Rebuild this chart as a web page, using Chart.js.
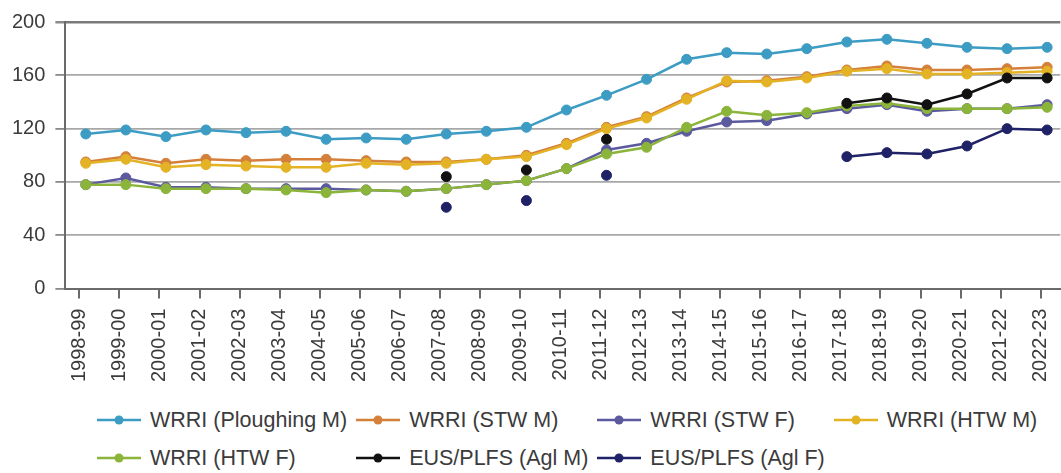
<!DOCTYPE html>
<html>
<head>
<meta charset="utf-8">
<script src="https://cdn.jsdelivr.net/npm/chart.js@4/dist/chart.umd.min.js"></script>
<style>
  html, body { margin: 0; padding: 0; background: #fff; overflow: hidden; }
  body { width: 1061px; height: 473px; position: relative; font-family: "Liberation Sans", Arial, sans-serif; }
  #wrap { position: absolute; left: 0; top: 0; width: 1075px; height: 392px; }
  #legend {
    position: absolute; left: 97px; top: 401px;
    display: grid; grid-template-columns: repeat(4, auto); grid-auto-rows: 38px;
    column-gap: 9px; align-items: center;
    font-size: 21.5px; color: #3b3b3b;
  }
  #legend .item { display: flex; align-items: center; white-space: nowrap; }
  #legend svg { margin-right: 9px; }
</style>
</head>
<body>
<div id="wrap"><canvas id="chart"></canvas></div>
<div id="legend"></div>
<script>
// ── Data ────────────────────────────────────────────────────────
const CATEGORIES = [
  '1998-99', '1999-00', '2000-01', '2001-02', '2002-03', '2003-04', '2004-05',
  '2005-06', '2006-07', '2007-08', '2008-09', '2009-10', '2010-11', '2011-12',
  '2012-13', '2013-14', '2014-15', '2015-16', '2016-17', '2017-18', '2018-19',
  '2019-20', '2020-21', '2021-22', '2022-23'
];

const PLOUGHING_M = [116, 119, 114, 119, 117, 118, 112, 113, 112, 116, 118, 121, 134, 145, 157, 172, 177, 176, 180, 185, 187, 184, 181, 180, 181];
const STW_M       = [95, 99, 94, 97, 96, 97, 97, 96, 95, 95, 97, 100, 109, 121, 129, 143, 155, 156, 159, 164, 167, 164, 164, 165, 166];
const STW_F       = [78, 83, 76, 76, 75, 75, 75, 74, 73, 75, 78, 81, 90, 104, 109, 118, 125, 126, 131, 135, 138, 133, 135, 135, 138];
const HTW_M       = [94, 97, 91, 93, 92, 91, 91, 94, 93, 94, 97, 99, 108, 120, 128, 142, 156, 155, 158, 163, 165, 161, 161, 162, 163];
const HTW_F       = [78, 78, 75, 75, 75, 74, 72, 74, 73, 75, 78, 81, 90, 101, 106, 121, 133, 130, 132, 137, 139, 135, 135, 135, 136];
const AGL_M       = [null, null, null, null, null, null, null, null, null, 84, null, 89, null, 112, null, null, null, null, null, 139, 143, 138, 146, 158, 158];
const AGL_F       = [null, null, null, null, null, null, null, null, null, 61, null, 66, null, 85, null, null, null, null, null, 99, 102, 101, 107, 120, 119];

const Y_TICKS = [0, 40, 80, 120, 160, 200];

const SERIES = [
  { label: 'WRRI (Ploughing M)', data: PLOUGHING_M, color: '#3d9cc3', order: 6 },
  { label: 'WRRI (STW M)',       data: STW_M,       color: '#d4803a', order: 5 },
  { label: 'WRRI (STW F)',       data: STW_F,       color: '#5c5a9e', order: 4 },
  { label: 'WRRI (HTW M)',       data: HTW_M,       color: '#e3b325', order: 3 },
  { label: 'WRRI (HTW F)',       data: HTW_F,       color: '#8bb43a', order: 2 },
  { label: 'EUS/PLFS (Agl M)',   data: AGL_M,       color: '#111111', order: 1 },
  { label: 'EUS/PLFS (Agl F)',   data: AGL_F,       color: '#1f2266', order: 0 },
];

const FONT = { family: '"Liberation Sans", Arial, sans-serif', size: 20 };
const TEXT = '#3b3b3b';

// ── Chart ───────────────────────────────────────────────────────
const chart = new Chart(document.getElementById('chart'), {
  type: 'line',
  data: {
    datasets: SERIES.map(function (s) {
      return {
        label: s.label,
        data: s.data.map(function (v, i) { return { x: i, y: v }; }),
        borderColor: s.color,
        backgroundColor: s.color,
        pointBackgroundColor: s.color,
        pointBorderColor: s.color,
        borderWidth: 2.5,
        pointRadius: 5,
        pointBorderWidth: 1,
        tension: 0,
        spanGaps: false,
        order: s.order,
        xAxisID: 'x',
      };
    })
  },
  options: {
    responsive: true,
    maintainAspectRatio: false,
    animation: false,
    layout: { padding: { left: 2, right: 12, top: 8, bottom: 0 } },
    plugins: { legend: { display: false }, tooltip: { enabled: false } },
    scales: {
      // data positions (points sit a little right of the tick marks)
      x: { type: 'linear', display: false, min: -0.51, max: 24.33 },
      // visible category ticks / labels
      xLabels: {
        type: 'linear', position: 'bottom',
        min: -0.35, max: 24.49,
        grid: { drawOnChartArea: false, tickLength: 10, tickColor: '#6a6a6a', lineWidth: 2 },
        border: { color: '#6a6a6a', width: 2 },
        ticks: {
          stepSize: 1, autoSkip: false, includeBounds: false,
          maxRotation: 90, minRotation: 90, padding: 10,
          color: TEXT, font: FONT,
          callback: function (v) { return Number.isInteger(v) ? CATEGORIES[v] : ''; }
        }
      },
      y: {
        min: 0, max: 200,
        afterBuildTicks: function (axis) { axis.ticks = Y_TICKS.map(function (v) { return { value: v }; }); },
        grid: {
          color: function (ctx) { return ctx.tick && ctx.tick.value === 200 ? '#7a7a7a' : '#a8a8a8'; },
          lineWidth: function (ctx) { return ctx.tick && ctx.tick.value === 200 ? 2.5 : 1.8; },
          tickLength: 10, tickColor: '#8a8a8a'
        },
        border: { color: '#6a6a6a', width: 2 },
        ticks: { padding: 10, color: TEXT, font: FONT }
      }
    }
  }
});

// ── HTML legend (line + marker symbol) ─────────────────────────
const legendEl = document.getElementById('legend');
legendEl.innerHTML = chart.data.datasets.map(function (ds) {
  return '<div class="item">'
    + '<svg width="44" height="14"><line x1="0" y1="7" x2="44" y2="7" stroke="' + ds.borderColor + '" stroke-width="2.5"/>'
    + '<circle cx="22" cy="7" r="4.5" fill="' + ds.borderColor + '"/></svg>'
    + '<span>' + ds.label + '</span></div>';
}).join('');
</script>
</body>
</html>
